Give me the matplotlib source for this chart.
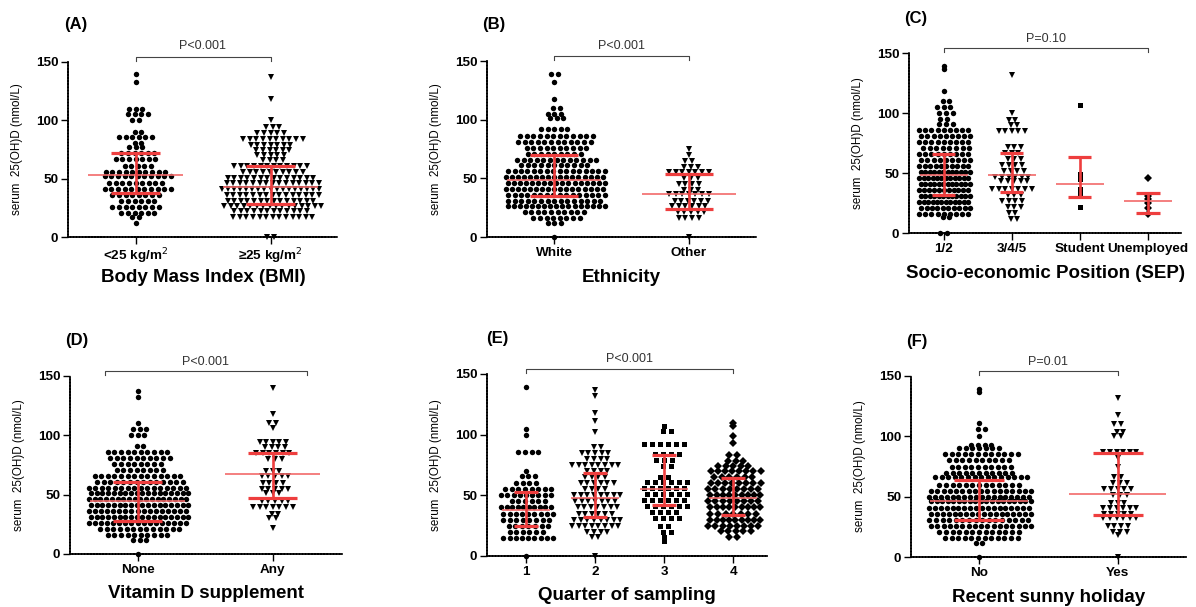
import numpy as np
import matplotlib
matplotlib.use("Agg")
import matplotlib.pyplot as plt

plt.rcParams['font.family'] = ['Liberation Sans', 'DejaVu Sans']

W, H = 1196, 607

bmi_lt25 = [(140, 1), (133, 1), (110, 3), (105, 4), (100, 2), (90, 2), (86, 6), (81, 2),
            (77, 3), (72, 6), (67, 7), (61, 5), (56, 10), (52, 11), (46, 9), (41, 11),
            (36, 8), (31, 6), (26, 8), (21, 6), (17, 2), (12, 1)]
bmi_ge25 = [(137, 1), (118, 1), (100, 1), (94, 3), (89, 5), (84, 10), (79, 7), (75, 6),
            (70, 5), (66, 4), (61, 12), (56, 10), (51, 14), (46, 15), (41, 17), (36, 15),
            (31, 14), (27, 16), (22, 12), (17, 13), (0, 2)]

eth_white = [(139, 2), (132, 1), (118, 1), (110, 2), (105, 3), (101, 3), (92, 5), (86, 12),
             (81, 12), (76, 10), (71, 9), (66, 13), (61, 11), (56, 16), (51, 17), (46, 17),
             (41, 17), (36, 16), (31, 15), (26, 17), (21, 10), (16, 8), (12, 3), (0, 1)]
eth_other = [(75, 1), (70, 1), (65, 2), (60, 3), (55, 7), (50, 3), (45, 4), (40, 3),
             (37, 7), (31, 6), (26, 6), (21, 5), (16, 4), (0, 1)]

sep_12 = [(139, 1), (137, 1), (118, 1), (110, 2), (105, 3), (100, 3), (95, 2), (91, 3),
          (86, 9), (81, 9), (76, 9), (71, 8), (66, 9), (61, 9), (56, 10), (51, 12),
          (46, 12), (41, 12), (36, 11), (31, 12), (26, 12), (21, 10), (16, 9), (13, 2), (0, 2)]
sep_345 = [(132, 1), (100, 1), (94, 2), (90, 2), (85, 5), (72, 3), (67, 3), (62, 3),
           (57, 4), (52, 4), (47, 6), (43, 5), (37, 7), (32, 3), (27, 4), (22, 3), (17, 2), (12, 2)]
sep_student = [(107, 1), (49, 1), (45, 1), (37, 1), (33, 1), (22, 1)]
sep_unemployed = [(46, 1), (31, 1), (28, 1), (25, 1), (21, 1), (16, 1)]

vitd_none = [(137, 1), (132, 1), (110, 1), (105, 3), (100, 3), (91, 2), (86, 10), (81, 10),
             (76, 8), (71, 8), (66, 14), (61, 14), (56, 16), (51, 18), (46, 18), (41, 18),
             (36, 17), (31, 18), (26, 17), (21, 13), (16, 10), (12, 3), (0, 1)]
vitd_any = [(140, 1), (118, 1), (110, 2), (106, 1), (94, 5), (90, 4), (85, 6), (80, 3),
            (70, 3), (66, 5), (60, 4), (55, 5), (51, 3), (45, 5), (40, 7), (34, 2), (30, 2), (22, 1)]

qtr_1 = [(139, 1), (105, 1), (100, 1), (86, 4), (70, 1), (66, 3), (60, 4), (55, 8),
         (50, 9), (45, 6), (40, 10), (35, 9), (30, 8), (25, 7), (20, 6), (15, 9), (0, 1)]
qtr_2 = [(137, 1), (132, 1), (118, 1), (111, 1), (102, 1), (90, 2), (85, 5), (80, 4),
         (75, 8), (70, 4), (65, 4), (60, 6), (55, 4), (50, 8), (45, 7), (40, 7), (35, 6),
         (30, 8), (25, 8), (20, 4), (16, 2), (0, 1)]
qtr_3 = [(107, 1), (103, 2), (92, 6), (84, 4), (79, 3), (74, 2), (65, 2), (61, 6), (56, 6),
         (51, 6), (46, 6), (41, 6), (36, 4), (31, 4), (25, 2), (20, 2), (16, 1), (12, 1)]
qtr_4 = [(110, 1), (107, 1), (99, 1), (93, 1), (83, 2), (78, 3), (74, 5), (70, 8), (65, 6),
         (60, 8), (55, 8), (50, 9), (45, 8), (40, 9), (35, 7), (30, 9), (25, 8), (21, 5), (16, 2)]

hol_no = [(139, 1), (137, 1), (111, 1), (106, 2), (100, 1), (93, 4), (90, 7), (85, 12),
          (80, 10), (75, 10), (70, 11), (66, 15), (60, 13), (55, 17), (50, 18), (46, 19),
          (41, 18), (36, 18), (31, 16), (26, 17), (21, 13), (16, 12), (12, 2), (0, 1)]
hol_yes = [(132, 1), (118, 1), (110, 2), (104, 2), (100, 2), (87, 6), (82, 1), (75, 1),
           (66, 2), (61, 3), (56, 5), (51, 3), (45, 3), (41, 6), (36, 5), (32, 6), (26, 4),
           (21, 3), (18, 1), (0, 1)]

# median and interquartile range (red bars)
bmi_med, bmi_q1, bmi_q3 = [53, 43], [38, 28], [72, 61]
eth_med, eth_q1, eth_q3 = [49, 37], [35, 24], [70, 54]
sep_med, sep_q1, sep_q3 = [48, 48, 41, 27], [32, 34, 30, 17], [66, 67, 63, 33]
vitd_med, vitd_q1, vitd_q3 = [45, 67], [28, 47], [61, 85]
qtr_med, qtr_q1, qtr_q3 = [38, 48, 55, 48], [25, 32, 42, 34], [53, 68, 83, 64]
hol_med, hol_q1, hol_q3 = [46, 52], [31, 35], [64, 86]

panels = [
    dict(letter='(A)', groups=[bmi_lt25, bmi_ge25], med=bmi_med, q1=bmi_q1, q3=bmi_q3,
         cats=['<25 kg/m$^2$', '≥25 kg/m$^2$'], xlabel='Body Mass Index (BMI)',
         ptext='P<0.001', bracket=(0, 1), box=(68, 62, 338, 237), xlim=(-0.5, 1.5),
         lpos=(64, 25), ty=164),
    dict(letter='(B)', groups=[eth_white, eth_other], med=eth_med, q1=eth_q1, q3=eth_q3,
         cats=['White', 'Other'], xlabel='Ethnicity',
         ptext='P<0.001', bracket=(0, 1), box=(487, 61, 756, 237), xlim=(-0.5, 1.5),
         lpos=(482, 24), ty=163),
    dict(letter='(C)', groups=[sep_12, sep_345, sep_student, sep_unemployed], med=sep_med,
         q1=sep_q1, q3=sep_q3, cats=['1/2', '3/4/5', 'Student', 'Unemployed'],
         xlabel='Socio-economic Position (SEP)',
         ptext='P=0.10', bracket=(0, 3), box=(909, 53, 1182, 233), xlim=(-0.51, 3.5),
         lpos=(904, 18), ty=162),
    dict(letter='(D)', groups=[vitd_none, vitd_any], med=vitd_med, q1=vitd_q1, q3=vitd_q3,
         cats=['None', 'Any'], xlabel='Vitamin D supplement',
         ptext='P<0.001', bracket=(-0.24, 1.25), box=(70, 376, 343, 554), xlim=(-0.5, 1.52),
         lpos=(65, 340), ty=162),
    dict(letter='(E)', groups=[qtr_1, qtr_2, qtr_3, qtr_4], med=qtr_med, q1=qtr_q1, q3=qtr_q3,
         cats=['1', '2', '3', '4'], xlabel='Quarter of sampling',
         ptext='P<0.001', bracket=(0, 3), box=(487, 374, 767, 556), xlim=(-0.565, 3.49),
         lpos=(486, 339), ty=162),
    dict(letter='(F)', groups=[hol_no, hol_yes], med=hol_med, q1=hol_q1, q3=hol_q3,
         cats=['No', 'Yes'], xlabel='Recent sunny holiday',
         ptext='P=0.01', bracket=(0, 1), box=(911, 376, 1187, 557), xlim=(-0.49, 1.5),
         lpos=(906, 341), ty=162),
]

markers = ['o', 'v', 's', 'D']
msizes = [3.9, 4.3, 3.6, 3.6]
spacing_px = [6.6, 6.6, 8.0, 7.6]
red = '#ee3e3e'
red_light = '#f26a6a'

fig = plt.figure(figsize=(W / 100, H / 100), dpi=100)

for p in panels:
    l, t, r, b = p['box']
    ax = fig.add_axes([l / W, (H - b) / H, (r - l) / W, (b - t) / H])
    x0, x1 = p['xlim']
    unit_px = (r - l) / (x1 - x0)
    half_max = min(55.0, 0.36 * unit_px) / unit_px
    ncat = len(p['cats'])
    cap = 0.18 if ncat == 2 else 0.17

    for i, rows in enumerate(p['groups']):
        dx = spacing_px[i] / unit_px
        xs, ys = [], []
        for k, (v, n) in enumerate(rows):
            step = dx
            if n > 1 and (n - 1) * dx > 2 * half_max:
                step = 2 * half_max / (n - 1)
            off = (np.arange(n) - (n - 1) / 2) * step
            # stagger neighbouring rows a little so the swarm does not form a grid
            if n > 1 and k % 2:
                off = off + step * 0.35
            xs.extend(i + off)
            ys.extend([v] * n)
        ax.plot(xs, ys, linestyle='none', marker=markers[i], ms=msizes[i],
                color='black', mew=0, clip_on=False, zorder=3)

        ax.plot([i - 0.35, i + 0.35], [p['med'][i]] * 2, color=red_light, lw=1.2,
                zorder=4, solid_capstyle='butt')
        ax.plot([i, i], [p['q1'][i], p['q3'][i]], color=red, lw=1.9, zorder=4)
        for q in (p['q1'][i], p['q3'][i]):
            ax.plot([i - cap, i + cap], [q, q], color=red, lw=2.3, zorder=4,
                    solid_capstyle='butt')

    ax.set_xlim(x0, x1)
    ax.set_ylim(0, 150)
    ax.set_yticks([0, 50, 100, 150])
    ax.set_xticks(range(ncat))
    ax.set_xticklabels(p['cats'])
    ax.tick_params(axis='both', direction='out', length=5, width=1, labelsize=9.7,
                   pad=2)
    for lab in ax.get_xticklabels() + ax.get_yticklabels():
        lab.set_fontweight('bold')
    for s in ('top', 'right'):
        ax.spines[s].set_visible(False)
    for s in ('left', 'bottom'):
        ax.spines[s].set_linewidth(1.3)
        ax.spines[s].set_linestyle((0, (1, 0.7)))

    # significance bracket
    bx0, bx1 = p['bracket']
    ax.plot([bx0, bx0, bx1, bx1], [150.5, 154, 154, 150.5], color='#444444', lw=0.8,
            clip_on=False)
    ax.text((bx0 + bx1) / 2, p['ty'], p['ptext'], ha='center', va='center',
            fontsize=9, color='#333333', clip_on=False)

    # axis labels
    fig.text((l - 51) / W, 1 - ((t + b) / 2) / H, 'serum  25(OH)D (nmol/L)', rotation=90,
             ha='center', va='center', fontsize=8.4)
    fig.text(((l + r) / 2) / W, 1 - (b + 40) / H, p['xlabel'], ha='center', va='center',
             fontsize=13.5, fontweight='bold')
    fig.text(p['lpos'][0] / W, 1 - p['lpos'][1] / H, p['letter'], ha='left', va='center',
             fontsize=12, fontweight='bold')

fig.savefig('out.png', dpi=100)
